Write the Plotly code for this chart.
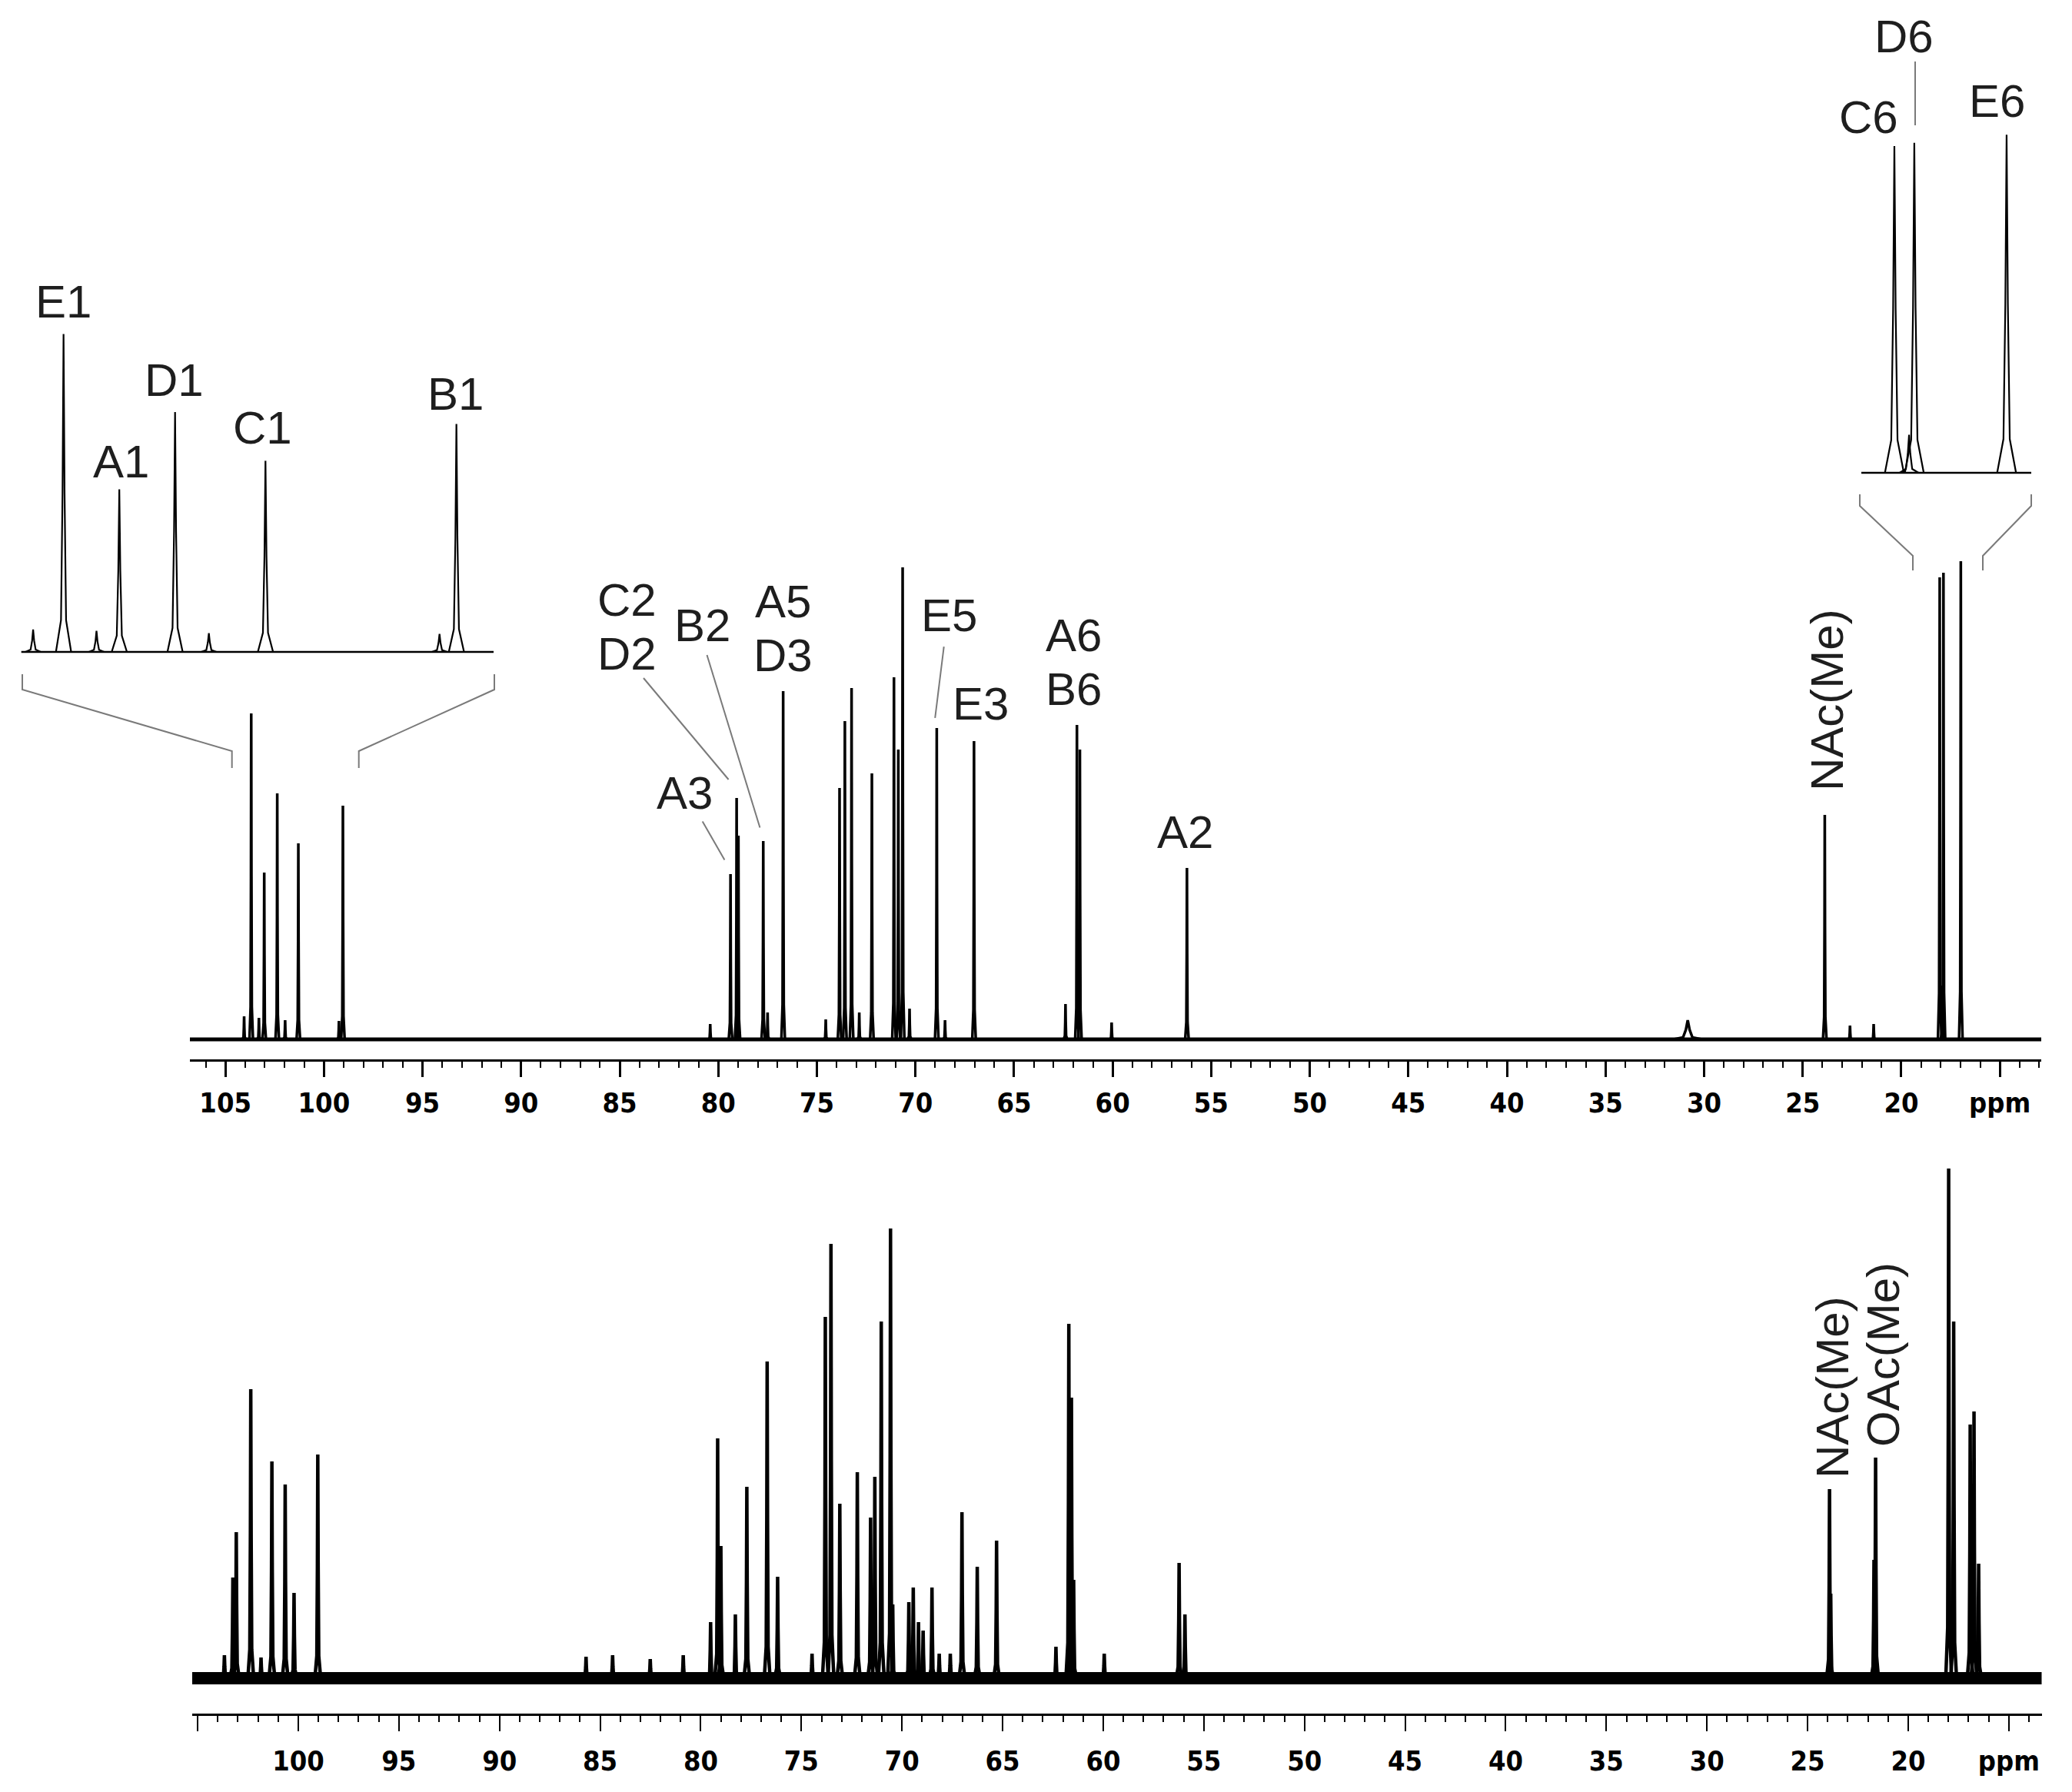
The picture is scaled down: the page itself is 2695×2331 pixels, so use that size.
import plotly.graph_objects as go

# ---------------- data ----------------
# upper spectrum: peak positions (ppm) and heights (arbitrary units = px above baseline)
TOP_PPM = [104.05, 103.69, 103.30, 103.03, 102.37, 101.97, 101.30, 99.24, 99.04,
           80.41, 79.38, 79.07, 78.98, 77.72, 77.50, 76.71, 74.55, 73.85, 73.58, 73.24,
           72.85, 72.21, 71.09, 70.87, 70.65, 70.30, 68.92, 68.50, 67.03, 62.39, 61.81,
           61.66, 60.05, 56.23, 23.88, 22.60, 21.40, 18.05, 17.91, 17.86, 16.98]
TOP_H = [30, 424, 28, 217, 320, 25, 255, 24, 304,
         20, 215, 314, 265, 258, 35, 453, 26, 327, 414, 457,
         35, 346, 471, 377, 614, 40, 405, 25, 388, 46, 409,
         377, 22, 223, 292, 18, 20, 601, 70, 607, 622]
TOP_BROAD_PPM = [30.83]
TOP_BROAD_H = [25]

# lower spectrum
BOT_PPM = [103.67, 103.25, 103.08, 102.36, 101.85, 101.31, 100.65, 100.21, 99.03,
           85.70, 84.38, 82.51, 80.87, 79.51, 79.16, 79.00, 78.28, 77.71, 76.70, 76.18,
           74.47, 73.81, 73.53, 73.09, 72.22, 71.56, 71.35, 71.03, 70.57, 70.46, 69.66,
           69.44, 69.18, 68.95, 68.51, 68.15, 67.60, 67.02, 66.26, 65.30, 62.35, 61.71,
           61.58, 61.47, 59.95, 56.23, 55.94, 23.91, 23.85, 21.70, 21.62, 17.99, 17.74,
           16.92, 16.73, 16.50]
BOT_H = [30, 131, 190, 376, 27, 282, 252, 111, 291,
         28, 30, 25, 30, 73, 312, 172, 83, 249, 412, 132,
         32, 470, 565, 227, 268, 209, 262, 464, 585, 96, 99,
         118, 73, 62, 118, 32, 32, 216, 145, 179, 41, 461,
         365, 128, 32, 150, 83, 246, 110, 154, 287, 663, 464,
         330, 347, 149]

# axes
TOP_TICKVALS = [105, 100, 95, 90, 85, 80, 75, 70, 65, 60, 55, 50, 45, 40, 35, 30, 25, 20, 15]
TOP_TICKTEXT = ["105", "100", "95", "90", "85", "80", "75", "70", "65", "60", "55",
                "50", "45", "40", "35", "30", "25", "20", "ppm"]
BOT_TICKVALS = [105, 100, 95, 90, 85, 80, 75, 70, 65, 60, 55, 50, 45, 40, 35, 30, 25, 20, 15]
BOT_TICKTEXT = ["", "100", "95", "90", "85", "80", "75", "70", "65", "60", "55",
                "50", "45", "40", "35", "30", "25", "20", "ppm"]

# ---------------- geometry / style ----------------
PAGE_OFF = 8                      # browser body margin
W, H = 2695 - PAGE_OFF, 2331 - PAGE_OFF


def px(x):
    return (x - PAGE_OFF) / W


def py(y):
    return 1 - (y - PAGE_OFF) / H


# peak glyph (offset in ppm, fraction of height)
PROF_DX = [-0.09, -0.03, -0.012, 0.0, 0.012, 0.03, 0.09]
PROF_FY = [0.0, 0.1, 0.5, 1.0, 0.5, 0.1, 0.0]


def peaks_xy(ppms, heights, widen=1.0):
    xs, ys = [], []
    for p, h in zip(ppms, heights):
        for dx, fy in zip(PROF_DX, PROF_FY):
            xs.append(p + dx * widen)
            ys.append(h * fy)
        xs.append(None)
        ys.append(None)
    return xs, ys


fig = go.Figure()

BLACK = "#000000"
GREY = "#7a7a7a"


def add_spectrum(ppms, heights, xa, ya, lw, base_w, widen=1.0, broad=None):
    fig.add_trace(go.Scatter(x=[115, 5], y=[0, 0], mode="lines", xaxis=xa, yaxis=ya,
                             line=dict(color=BLACK, width=base_w), hoverinfo="skip"))
    if broad is not None:
        bx, by = peaks_xy(broad[0], broad[1], widen=8.0)
        fig.add_trace(go.Scatter(x=bx, y=by, mode="lines", xaxis=xa, yaxis=ya,
                                 line=dict(color=BLACK, width=lw), hoverinfo="skip"))
    x, y = peaks_xy(ppms, heights, widen)
    fig.add_trace(go.Scatter(x=x, y=y, mode="lines", xaxis=xa, yaxis=ya,
                             line=dict(color=BLACK, width=lw), hoverinfo="skip"))


# upper main spectrum
add_spectrum(TOP_PPM, TOP_H, "x", "y", 3.5, 5, 1.0, (TOP_BROAD_PPM, TOP_BROAD_H))
# lower spectrum
add_spectrum(BOT_PPM, BOT_H, "x2", "y2", 4.5, 16, 1.6)
# insets (same upper data, expanded)
add_spectrum(TOP_PPM, TOP_H, "x3", "y3", 2.2, 2.4, 1.0)
add_spectrum(TOP_PPM, TOP_H, "x4", "y4", 2.2, 2.4, 1.0)

tickfont = dict(family="Liberation Sans Narrow, Arial Narrow, DejaVu Sans Condensed, Liberation Sans, Arial",
                size=36, color=BLACK, weight="bold")


def main_xaxis(domain, rng, tv, tt, anchor, lw, tw, mtw, standoff):
    return dict(domain=domain, range=rng, anchor=anchor, showline=True, linecolor=BLACK,
                linewidth=lw, ticks="outside", ticklen=20, tickwidth=tw, tickcolor=BLACK,
                tickmode="array", tickvals=tv, ticktext=tt, tickfont=tickfont,
                ticklabelstandoff=standoff, showgrid=False, zeroline=False,
                minor=dict(tickmode="linear", tick0=0, dtick=1, ticklen=8, tickwidth=mtw,
                           tickcolor=BLACK, ticks="outside", showgrid=False))


# panel geometry in page pixels: axis line, top of plot area, baseline (1 unit = 1 px)
TOP_BOTTOM, TOP_TOP, TOP_BASE = 1378, 690, 1352
BOT_BOTTOM, BOT_TOP, BOT_BASE = 2229, 1470, 2183
LI_BOTTOM, LI_TOP, LI_BASE, LI_SCALE = 870, 400, 848, 0.975
RI_BOTTOM, RI_TOP, RI_BASE, RI_SCALE = 640, 150, 615, 0.707

fig.update_layout(
    width=W, height=H, margin=dict(l=0, r=0, t=0, b=0),
    paper_bgcolor="white", plot_bgcolor="rgba(0,0,0,0)", showlegend=False,
    xaxis=main_xaxis([px(247), px(2655)], [106.8, 12.9], TOP_TICKVALS, TOP_TICKTEXT,
                     "y", 3, 3, 2, 3),
    yaxis=dict(domain=[py(TOP_BOTTOM), py(TOP_TOP)],
               range=[-(TOP_BOTTOM - TOP_BASE), TOP_BASE - TOP_TOP], visible=False),
    xaxis2=main_xaxis([px(250), px(2655.5)], [105.27, 13.37], BOT_TICKVALS, BOT_TICKTEXT,
                      "y2", 3, 2, 1.5, 8),
    yaxis2=dict(domain=[py(BOT_BOTTOM), py(BOT_TOP)],
                range=[-(BOT_BOTTOM - BOT_BASE), BOT_BASE - BOT_TOP], visible=False),
    xaxis3=dict(domain=[px(27.7), px(642)], range=[104.19, 98.60], anchor="y3", visible=False),
    yaxis3=dict(domain=[py(LI_BOTTOM), py(LI_TOP)],
                range=[-(LI_BOTTOM - LI_BASE) / LI_SCALE, (LI_BASE - LI_TOP) / LI_SCALE],
                visible=False),
    xaxis4=dict(domain=[px(2421), px(2642)], range=[18.365, 16.745], anchor="y4", visible=False),
    yaxis4=dict(domain=[py(RI_BOTTOM), py(RI_TOP)],
                range=[-(RI_BOTTOM - RI_BASE) / RI_SCALE, (RI_BASE - RI_TOP) / RI_SCALE],
                visible=False),
)

# ---------------- labels ----------------
LABEL_FONT = dict(family="Liberation Sans, Arial, Helvetica, sans-serif", size=60, color="#1e1e1e")
LABELS = [
    ("E1", 82, 392, 0), ("A1", 157, 600, 0), ("D1", 227, 494, 0), ("C1", 341, 556, 0),
    ("B1", 592, 512, 0),
    ("C2", 815, 780, 0), ("D2", 815, 850, 0), ("B2", 913, 813, 0),
    ("A5", 1018, 782, 0), ("D3", 1018, 852, 0), ("E5", 1234, 800, 0), ("E3", 1275, 915, 0),
    ("A6", 1396, 826, 0), ("B6", 1396, 896, 0), ("A3", 890, 1031, 0), ("A2", 1542, 1082, 0),
    ("NAc(Me)", 2377, 911, -90),
    ("D6", 2476, 47, 0), ("C6", 2430, 152, 0), ("E6", 2597, 131, 0),
    ("NAc(Me)", 2383, 1805, -90), ("OAc(Me)", 2449, 1762, -90),
]
for text, lx, ly, ang in LABELS:
    extra = {} if ang else dict(height=54)
    fig.add_annotation(text=text, x=px(lx), y=py(ly), xref="paper", yref="paper",
                       showarrow=False, font=LABEL_FONT, textangle=ang,
                       xanchor="center", yanchor="middle", **extra)

# ---------------- leader lines and brackets (grey) ----------------
LEADERS = [
    [(837, 882), (947.6, 1014)],
    [(919.5, 852), (988.4, 1076.5)],
    [(913.7, 1068.6), (942.4, 1118.5)],
    [(1227.7, 841), (1216.2, 934)],
    [(2491, 80), (2491, 163)],
    [(29, 877), (29, 897), (301.7, 977), (301.7, 999)],
    [(643, 877), (643, 897), (466.7, 977), (466.7, 999)],
    [(2419, 643), (2419, 658), (2488, 723), (2488, 742)],
    [(2642, 643), (2642, 658), (2579, 723), (2579, 742)],
]
for pts in LEADERS:
    path = "M " + " L ".join(f"{px(a):.5f},{py(b):.5f}" for a, b in pts)
    fig.add_shape(type="path", path=path, xref="paper", yref="paper",
                  line=dict(color=GREY, width=2))

fig.write_html("out.html")
